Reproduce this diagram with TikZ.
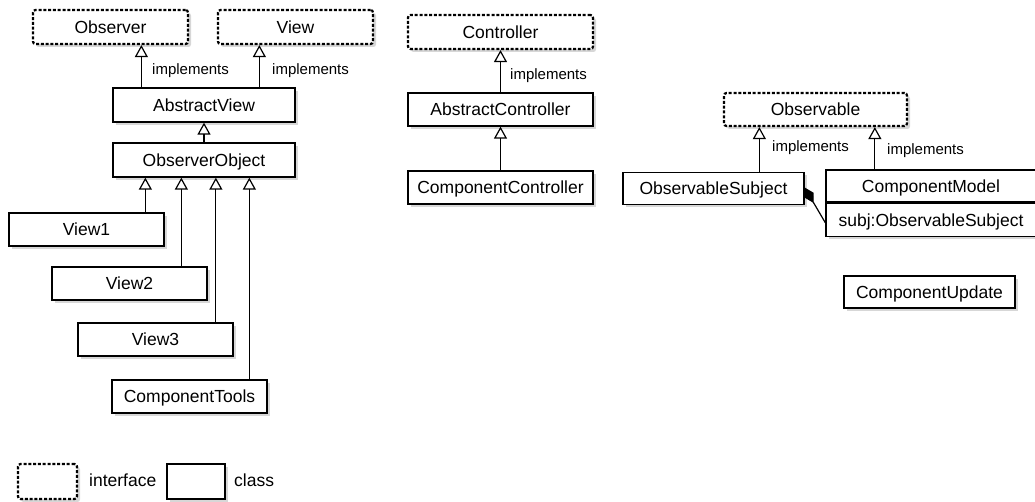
\documentclass[tikz,border=0pt]{standalone}
\usepackage{fontspec}
\setmainfont{Liberation Sans}
\usetikzlibrary{arrows.meta,shadows}
\begin{document}
\begin{tikzpicture}[x=1pt,y=-1pt,
  box/.style={draw, line width=1.3pt, fill=white, inner sep=0pt,
    font=\fontsize{17.5}{20}\selectfont, text height=12.5pt, text depth=0pt,
    drop shadow={shadow xshift=3pt,shadow yshift=-3pt,fill=black!35,opacity=0.45}},
  iface/.style={box, line width=2.2pt, dash pattern=on 3pt off 1.8pt, rounded corners=2.5pt},
  inh/.style={line width=1.2pt, -{Triangle[open,length=12pt,width=13pt,line width=1.2pt]}},
  lbl/.style={font=\fontsize{15}{18}\selectfont, anchor=west, inner sep=0pt, text height=10.7pt, text depth=0pt},
  lgd/.style={font=\fontsize{17.5}{20}\selectfont, anchor=west, inner sep=0pt, text height=12.5pt, text depth=0pt},
  comp/.style={line width=1.2pt, {Diamond[length=18pt,width=10pt]}-}]
\useasboundingbox (0,0) rectangle (1035,502);

% left group
\node[iface, minimum width=155pt, minimum height=34pt] (obs) at (110.5,27) {Observer};
\node[iface, minimum width=155pt, minimum height=34pt] (view) at (295.5,27) {View};
\node[box, minimum width=182pt, minimum height=34pt] (av) at (204,105) {AbstractView};
\node[box, minimum width=182pt, minimum height=34pt] (oo) at (204,160) {ObserverObject};
\node[box, minimum width=155pt, minimum height=33pt] (v1) at (86.5,229.5) {View1};
\node[box, minimum width=155pt, minimum height=33pt] (v2) at (129.5,283.5) {View2};
\node[box, minimum width=155pt, minimum height=33pt] (v3) at (155.5,339.5) {View3};
\node[box, minimum width=155pt, minimum height=33pt] (ct) at (189.5,396.5) {ComponentTools};

% controller group
\node[iface, minimum width=185pt, minimum height=34pt] (ctrl) at (500.5,32) {Controller};
\node[box, minimum width=185pt, minimum height=33pt] (ac) at (500.5,109.5) {AbstractController};
\node[box, minimum width=185pt, minimum height=33pt] (cc) at (500.5,187.5) {ComponentController};

% model group
\node[iface, minimum width=183pt, minimum height=33pt] (obl) at (815.5,109.5) {Observable};
\node[box, minimum width=181pt, minimum height=32pt] (os) at (713.5,188.5) {ObservableSubject};
\node[box, minimum width=210pt, minimum height=32pt] (cmtop) at (931,186) {ComponentModel};
\node[box, minimum width=210pt, minimum height=33pt, anchor=north] (cmbot) at (cmtop.south) {subj:ObservableSubject};
\node[box, minimum width=171pt, minimum height=32pt] (cu) at (929.5,292) {ComponentUpdate};

% connectors
\coordinate (a1) at ([xshift=29pt]av.north west);
\coordinate (a2) at ([xshift=147pt]av.north west);
\draw[inh] (a1) -- (a1 |- obs.south);
\draw[inh] (a2) -- (a2 |- view.south);
\draw[inh] (oo.north) -- (av.south);

\coordinate (t1) at ([xshift=33pt]oo.south west);
\coordinate (t2) at ([xshift=69pt]oo.south west);
\coordinate (t3) at ([xshift=103.5pt]oo.south west);
\coordinate (t4) at ([xshift=137pt]oo.south west);
\draw[inh] (t1 |- v1.north) -- (t1);
\draw[inh] (t2 |- v2.north) -- (t2);
\draw[inh] (t3 |- v3.north) -- (t3);
\draw[inh] (t4 |- ct.north) -- (t4);

\draw[inh] (ac.north) -- (ctrl.south);
\draw[inh] (cc.north) -- (ac.south);

\coordinate (m1) at ([xshift=137pt]os.north west);
\coordinate (m2) at ([xshift=49.5pt]cmtop.north west);
\draw[inh] (m1) -- (m1 |- obl.south);
\draw[inh] (m2) -- (m2 |- obl.south);
\draw[comp] ([yshift=1pt]os.east) -- ([yshift=-3pt]cmbot.west);

% labels
\node[lbl] (l1) at (152,69.5) {implements};
\node[lbl] (l2) at (272,69.5) {implements};
\node[lbl] (l3) at (510,74.5) {implements};
\node[lbl] (l4) at (772,146.5) {implements};
\node[lbl] (l5) at (887,149.5) {implements};

% legend
\node[iface, minimum width=59pt, minimum height=35pt] (li) at (47.5,481.5) {};
\node[lgd] (lit) at (89,480.5) {interface};
\node[box, minimum width=58pt, minimum height=35pt] (lc) at (196,481.5) {};
\node[lgd] (lct) at (234,480.5) {class};
\end{tikzpicture}
\end{document}
